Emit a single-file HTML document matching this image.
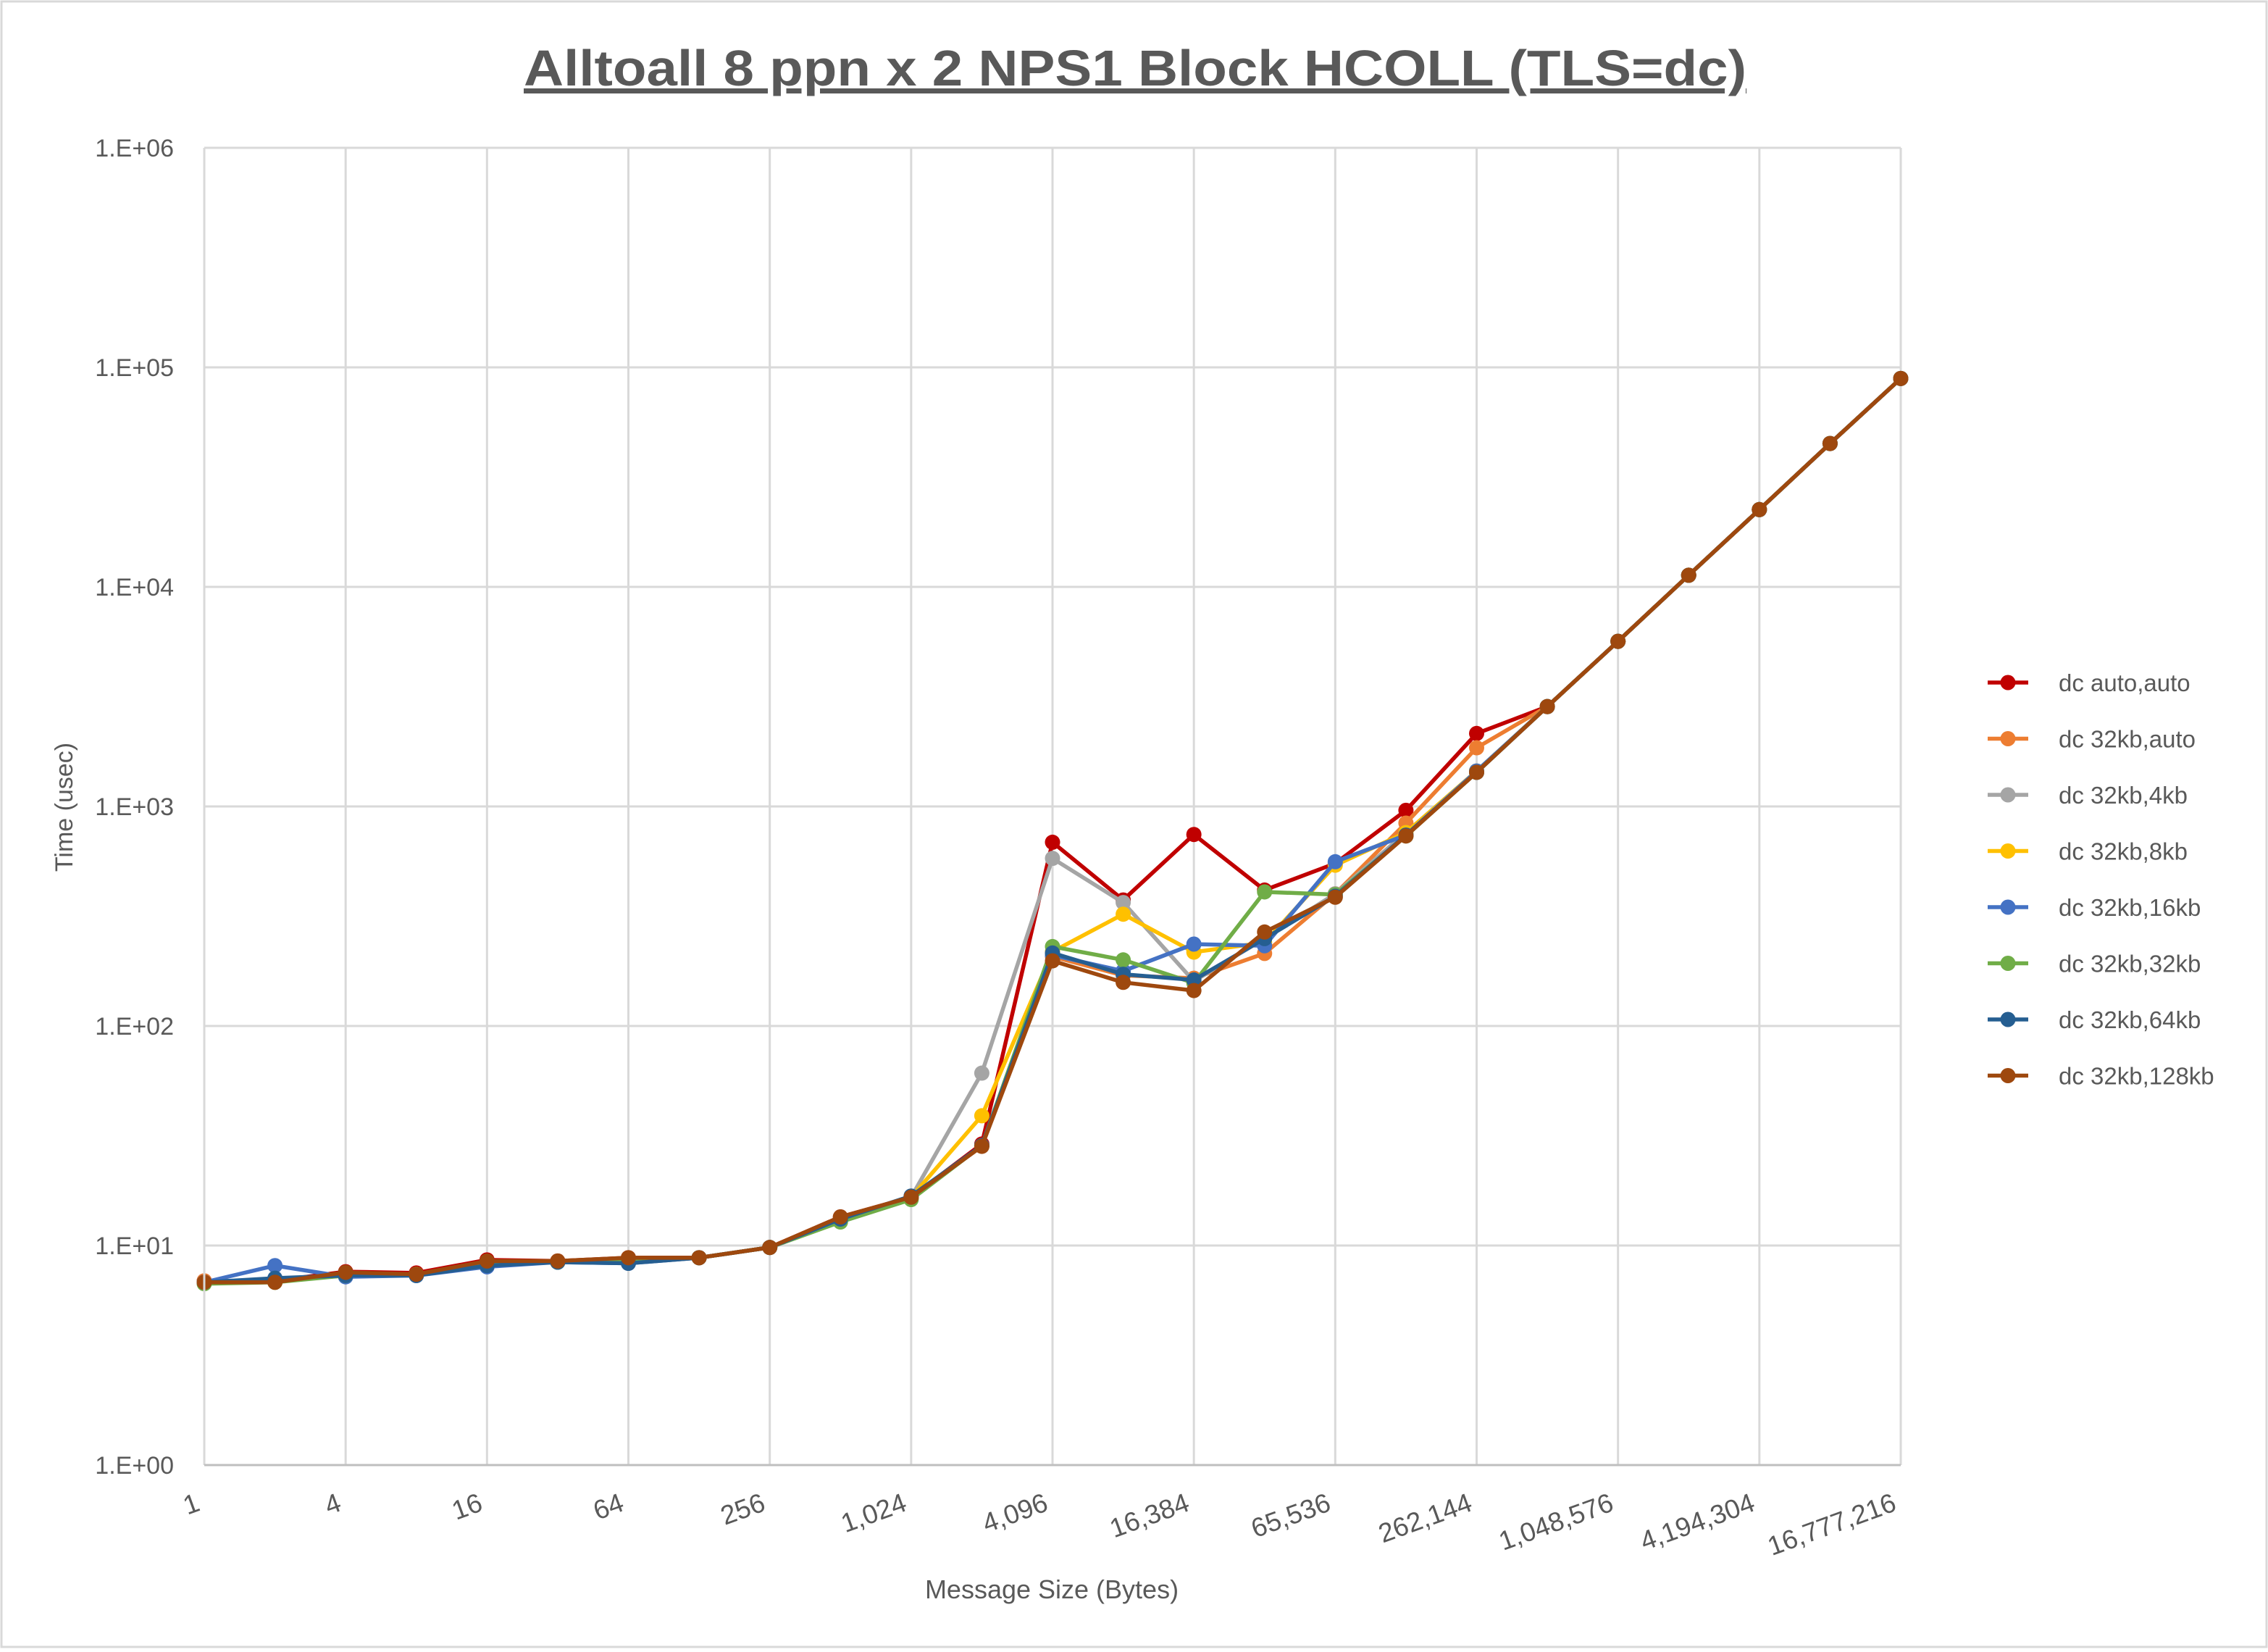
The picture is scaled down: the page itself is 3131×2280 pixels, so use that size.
<!DOCTYPE html>
<html><head><meta charset="utf-8"><style>
html,body{margin:0;padding:0;background:#fff}
svg text{font-family:"Liberation Sans",sans-serif;fill:#595959}
</style></head><body>
<svg id="chart" width="3131" height="2275" viewBox="0 0 3131 2275" xmlns="http://www.w3.org/2000/svg">
<rect x="2" y="2" width="3127" height="2271" fill="#fff" stroke="#d9d9d9" stroke-width="3"/>
<text x="1567" y="118" text-anchor="middle" font-size="70" font-weight="bold" textLength="1688" lengthAdjust="spacingAndGlyphs" text-decoration="underline">Alltoall 8 ppn x 2 NPS1 Block HCOLL (TLS=dc)</text>
<g id="grid"></g>
<g id="series"></g>
<g id="axes"></g>
<text transform="translate(100,1114) rotate(-90)" text-anchor="middle" font-size="34">Time (usec)</text>
<text x="1452" y="2206" text-anchor="middle" font-size="36">Message Size (Bytes)</text>
<g id="legend"></g>
</svg>
<script>
const xLabels = ["1","4","16","64","256","1,024","4,096","16,384","65,536","262,144","1,048,576","4,194,304","16,777,216"];
const yLabels = ["1.E+00","1.E+01","1.E+02","1.E+03","1.E+04","1.E+05","1.E+06"];
const seriesNames = ["dc auto,auto","dc 32kb,auto","dc 32kb,4kb","dc 32kb,8kb","dc 32kb,16kb","dc 32kb,32kb","dc 32kb,64kb","dc 32kb,128kb"];
const seriesColors = ["#C00000","#ED7D31","#A5A5A5","#FFC000","#4472C4","#70AD47","#255E91","#9E480E"];
const tail = [2850,5650,11300,22500,45000,89000];
const sAutoAuto = [6.9,6.9,7.6,7.5,8.6,8.5,8.8,8.8,9.8,13.5,16.6,29,687,375,745,416,550,960,2150].concat(tail);
const s32Auto   = [6.9,6.9,7.4,7.4,8.4,8.4,8.6,8.8,9.8,13.3,16.4,28.5,207,170,165,214,400,840,1850].concat(tail);
const s4kb      = [6.8,6.9,7.3,7.4,8.3,8.4,8.5,8.8,9.8,13.2,16.6,61,580,365,160,250,400,760,1450].concat(tail);
const s8kb      = [6.8,6.9,7.3,7.4,8.3,8.4,8.5,8.8,9.8,13.2,16.6,39,218,323,217,240,540,760,1450].concat(tail);
const s16kb     = [6.8,8.1,7.2,7.3,8.0,8.4,8.3,8.8,9.8,13.2,16.6,28.5,210,178,236,232,560,740,1450].concat(tail);
const s32kb     = [6.7,6.8,7.3,7.4,8.2,8.4,8.5,8.8,9.8,12.8,16.2,28.5,230,200,157,408,397,734,1430].concat(tail);
const s64kb     = [6.8,7.1,7.3,7.3,8.1,8.4,8.3,8.8,9.8,13.2,16.8,28.5,215,172,162,250,390,740,1430].concat(tail);
const s128kb    = [6.8,6.8,7.55,7.4,8.5,8.5,8.8,8.8,9.8,13.5,16.6,28.3,198,158,145,268,386,734,1430].concat(tail);
const seriesValues = [sAutoAuto,s32Auto,s4kb,s8kb,s16kb,s32kb,s64kb,s128kb];

const NS="http://www.w3.org/2000/svg";
const L=282,R=2624,T=204,B=2022;
const xPos=i=>L+(R-L)*i/24;
const yPos=v=>B-(B-T)*Math.log10(v)/6;
function mk(tag,attrs,parent){const e=document.createElementNS(NS,tag);for(const k in attrs)e.setAttribute(k,attrs[k]);parent.appendChild(e);return e;}
const grid=document.getElementById('grid'),axes=document.getElementById('axes'),sg=document.getElementById('series'),lg=document.getElementById('legend');
xLabels.forEach((lab,j)=>{
  const x=xPos(j*2);
  if(j>0){const g=mk('line',{x1:x,x2:x,y1:T,y2:B,stroke:'#d9d9d9','stroke-width':3},grid);
  
  }
  const t=mk('text',{transform:`translate(${x-4},${B+62}) rotate(-20)`,'text-anchor':'end','font-size':37},axes);
  t.textContent=lab;
  
  
});
yLabels.forEach((lab,j)=>{
  const y=yPos(Math.pow(10,j));
  if(j>0){const g=mk('line',{x1:L,x2:R,y1:y,y2:y,stroke:'#d9d9d9','stroke-width':3},grid);
  
  }
  const t=mk('text',{x:240,y:y+12,'text-anchor':'end','font-size':34},axes);
  t.textContent=lab;
  
  
});
const yl=mk('line',{x1:L,x2:L,y1:T,y2:B,stroke:'#d9d9d9','stroke-width':3},axes);


const xl=mk('line',{x1:L,x2:R,y1:B,y2:B,stroke:'#bfbfbf','stroke-width':3},axes);


seriesValues.forEach((vals,s)=>{
  const g=mk('g',{},sg);
  
  
  const pts=vals.map((v,i)=>xPos(i)+','+yPos(v)).join(' ');
  const pl=mk('polyline',{points:pts,fill:'none',stroke:seriesColors[s],'stroke-width':5.5,'stroke-linejoin':'round'},g);
  
  
  vals.forEach((v,i)=>{
    const c=mk('circle',{cx:xPos(i),cy:yPos(v),r:10.5,fill:seriesColors[s]},g);
    
    
  });
  const ly=942+s*77.5;
  const ll=mk('line',{x1:2744,x2:2800,y1:ly,y2:ly,stroke:seriesColors[s],'stroke-width':5.5},lg);
  
  
  const lc=mk('circle',{cx:2772,cy:ly,r:10.5,fill:seriesColors[s]},lg);
  
  
  const lt=mk('text',{x:2842,y:ly+12,'font-size':33},lg);
  lt.textContent=seriesNames[s];
  
  
});
</script>
</body></html>
